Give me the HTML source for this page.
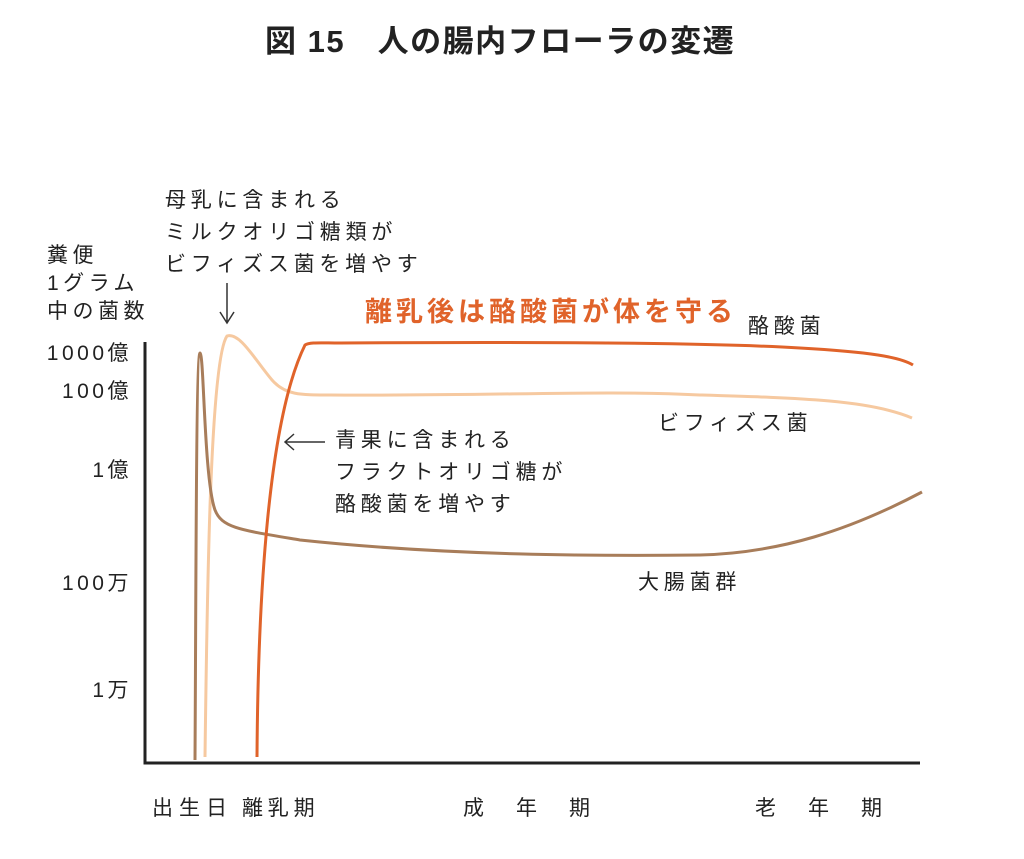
<!DOCTYPE html>
<html><head><meta charset="utf-8"><style>
body{margin:0;background:#fff;}
svg text{font-family:"Liberation Sans","Noto Sans CJK JP",sans-serif;fill:#222;}
</style></head><body>
<svg width="1024" height="854" viewBox="0 0 1024 854" xmlns="http://www.w3.org/2000/svg">
<text x="265" y="52" font-size="31" font-weight="bold" letter-spacing="1.5" fill="#222">図 15　人の腸内フローラの変遷</text>
<g font-size="21" letter-spacing="4.5">
<text x="47" y="262">糞便</text>
<text x="47" y="290">1グラム</text>
<text x="47" y="318">中の菌数</text>
</g>
<g font-size="21" letter-spacing="3.5" text-anchor="end">
<text x="132" y="360">1000億</text>
<text x="132" y="398">100億</text>
<text x="132" y="477">1億</text>
<text x="132" y="590">100万</text>
<text x="132" y="697">1万</text>
</g>
<g font-size="21" letter-spacing="4.8">
<text x="165" y="207">母乳に含まれる</text>
<text x="165" y="239">ミルクオリゴ糖類が</text>
<text x="165" y="271">ビフィズス菌を増やす</text>
<text x="335" y="447">青果に含まれる</text>
<text x="335" y="479">フラクトオリゴ糖が</text>
<text x="335" y="511">酪酸菌を増やす</text>
<text x="748" y="333">酪酸菌</text>
<text x="658" y="430">ビフィズス菌</text>
<text x="638" y="589">大腸菌群</text>
<text x="152" y="815" letter-spacing="6">出生日</text>
<text x="242" y="815">離乳期</text>
<text x="463" y="815" letter-spacing="5.5">成　年　期</text>
<text x="755" y="815" letter-spacing="5.5">老　年　期</text>
</g>
<text x="365" y="321" font-size="27" font-weight="bold" letter-spacing="4" style="fill:#e0632a">離乳後は酪酸菌が体を守る</text>
<g stroke="#333" stroke-width="1.5" fill="none">
<path d="M227 283 V322 M220 312 L227 323 L234 312"/>
<path d="M285 442 H325 M294 434 L285 442 L294 450"/>
</g>
<path d="M145 342 V763 H920" stroke="#222" stroke-width="3" fill="none"/>
<g fill="none" stroke-width="3">
<path d="M205 757 C207 600 210 360 227 336 C240 332 255 360 272 380 C285 395 300 395 330 395 C500 396 600 390 700 395 C800 398 870 400 912 418" stroke="#f6c9a0"/>
<path d="M195 760 C196 600 196 353 200 353 C204 353 204 480 215 510 C222 528 240 530 300 540 C450 556 600 556 700 555 C780 553 850 530 922 492" stroke="#a87d5a"/>
<path d="M257 757 C258 600 268 420 305 345 C310 342 320 343 340 343 C500 342 700 342 800 348 C870 352 900 357 913 365" stroke="#e0632a"/>
</g>
</svg>
</body></html>
